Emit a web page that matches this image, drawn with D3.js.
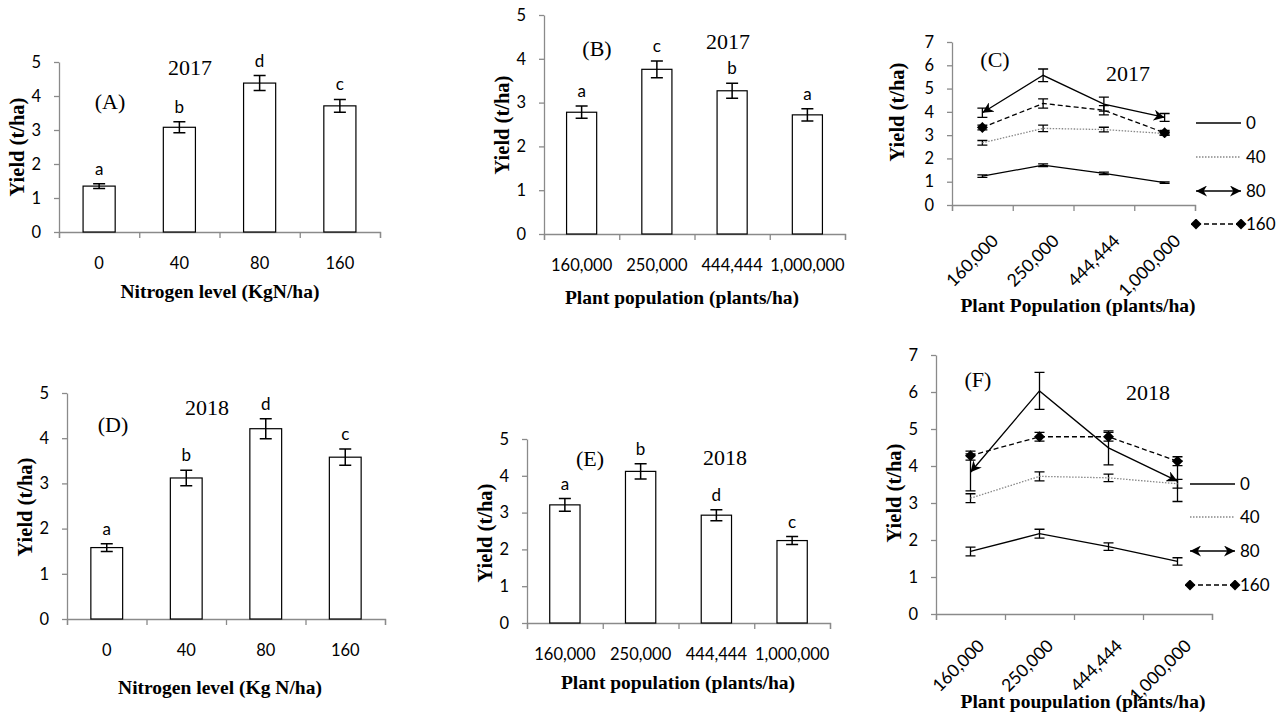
<!DOCTYPE html>
<html>
<head>
<meta charset="utf-8">
<title>Yield by nitrogen level and plant population</title>
<script src="https://d3js.org/d3.v7.min.js"></script>
<style>
  body { margin: 0; background: #fff; }
  .tick text { font-family: Lato, sans-serif; font-size: 16.5px; fill: #000; }
  .axis path, .axis line { stroke: #8a8a8a; stroke-width: 1.3; }
  .ttl { font-family: "Liberation Serif", serif; font-weight: bold; font-size: 19.5px; }
  .ttl.y { font-size: 20.5px; }
  .yr { font-family: "Liberation Serif", serif; font-size: 22px; }
  .lab { font-family: Lato, sans-serif; font-size: 17px; }
  .rot .tick text { font-size: 17.5px; }
</style>
</head>
<body>
<svg id="fig" width="1286" height="713"></svg>
<script>
// categories
var nitrogen = ["0", "40", "80", "160"];
var population = ["160,000", "250,000", "444,444", "1,000,000"];
var seriesNames = ["0", "40", "80", "160"];

// (A) 2017, nitrogen
var yieldA = [1.35, 3.08, 4.38, 3.71];
var errA = [0.07, 0.16, 0.22, 0.19];
var letA = ["a", "b", "d", "c"];
// (B) 2017, population
var yieldB = [2.78, 3.76, 3.27, 2.72];
var errB = [0.14, 0.19, 0.17, 0.14];
var letB = ["a", "c", "b", "a"];
// (D) 2018, nitrogen
var yieldD = [1.58, 3.12, 4.21, 3.58];
var errD = [0.085, 0.17, 0.22, 0.18];
var letD = ["a", "b", "d", "c"];
// (E) 2018, population
var yieldE = [3.21, 4.12, 2.93, 2.24];
var errE = [0.17, 0.21, 0.15, 0.11];
var letE = ["a", "b", "d", "c"];

// (C) 2017, population x nitrogen
var c0 = [1.24, 1.71, 1.36, 0.96],   c0e = [0.05, 0.06, 0.05, 0.03];
var c40 = [2.67, 3.29, 3.24, 3.07],  c40e = [0.1, 0.14, 0.1, 0.07];
var c80 = [3.96, 5.57, 4.33, 3.76],  c80e = [0.2, 0.27, 0.3, 0.17];
var c160 = [3.33, 4.36, 4.07, 3.1],  c160e = [0.1, 0.2, 0.2, 0.1];
// (F) 2018, population x nitrogen
var f0 = [1.69, 2.17, 1.82, 1.42],   f0e = [0.12, 0.12, 0.1, 0.1];
var f40 = [3.13, 3.72, 3.68, 3.52],  f40e = [0.12, 0.12, 0.1, 0.12];
var f80 = [3.83, 6.03, 4.49, 3.59],  f80e = [0.5, 0.5, 0.46, 0.55];
var f160 = [4.28, 4.79, 4.79, 4.13], f160e = [0.12, 0.12, 0.12, 0.12];

var svg = d3.select("#fig");
var defs = svg.append("defs");
defs.append("marker").attr("id", "arrow")
    .attr("viewBox", "0 0 10 10").attr("refX", 10).attr("refY", 5)
    .attr("markerWidth", 11).attr("markerHeight", 11)
    .attr("markerUnits", "userSpaceOnUse").attr("orient", "auto-start-reverse")
  .append("path").attr("d", "M0,0 L10,5 L0,10 L3,5 Z").attr("fill", "#000");
defs.append("marker").attr("id", "diamond")
    .attr("viewBox", "0 0 10 10").attr("refX", 5).attr("refY", 5)
    .attr("markerWidth", 11).attr("markerHeight", 11)
    .attr("markerUnits", "userSpaceOnUse")
  .append("path").attr("d", "M5,0 L10,5 L5,10 L0,5 Z").attr("fill", "#000");

var styles = {
  "0":   { stroke: "#000", dash: null, w: 1.3 },
  "40":  { stroke: "#888", dash: "1.5,1.5", w: 1.3 },
  "80":  { stroke: "#000", dash: null, w: 1.3, arrows: true },
  "160": { stroke: "#000", dash: "5,3", w: 1.3, diamonds: true }
};

function frame(o, x, y, nY) {
  svg.append("g").attr("class", "axis")
      .attr("transform", "translate(" + o.x0 + ",0)")
      .call(d3.axisLeft(y).ticks(nY).tickSize(5).tickSizeOuter(0).tickPadding(13));
  var edge = d3.scaleLinear().domain([0, 4]).range([o.x0, o.x1]);
  svg.append("g").attr("class", "axis")
      .attr("transform", "translate(0," + o.y0 + ")")
      .call(d3.axisBottom(edge).ticks(4).tickSize(6).tickFormat(""));
  svg.append("text").attr("class", "ttl").attr("text-anchor", "middle")
      .attr("x", o.tx).attr("y", o.ty).text(o.xtitle);
  svg.append("text").attr("class", "ttl y").attr("text-anchor", "middle")
      .attr("transform", "translate(" + o.yx + "," + o.yy + ") rotate(-90)")
      .text("Yield (t/ha)");
  svg.append("text").attr("class", "yr").attr("text-anchor", "middle")
      .attr("x", o.px).attr("y", o.py).text(o.panel);
  svg.append("text").attr("class", "yr").attr("text-anchor", "middle")
      .attr("x", o.yrx).attr("y", o.yry).text(o.year);
}

function barPanel(o) {
  var x = d3.scaleBand().domain(o.cats).range([o.x0, o.x1]).paddingInner(0.6).paddingOuter(0.3);
  var y = d3.scaleLinear().domain([0, 5]).range([o.y0, o.ytop]);
  frame(o, x, y, 5);
  var lab = svg.append("g").attr("class", "axis")
      .attr("transform", "translate(0," + o.y0 + ")")
      .call(d3.axisBottom(x).tickSize(0).tickPadding(25));
  lab.select(".domain").remove();

  var rows = o.cats.map(function(c, i) { return { c: c, v: o.vals[i], e: o.errs[i], l: o.lets[i] }; });
  var g = svg.append("g");
  g.selectAll("rect").data(rows).enter().append("rect")
      .attr("x", function(d) { return x(d.c); })
      .attr("width", x.bandwidth())
      .attr("y", function(d) { return y(d.v); })
      .attr("height", function(d) { return o.y0 - y(d.v); })
      .attr("fill", "#fff").attr("stroke", "#000").attr("stroke-width", 1.2);
  var cx = function(d) { return x(d.c) + x.bandwidth() / 2; };
  g.selectAll("path.eb").data(rows).enter().append("path")
      .attr("d", function(d) {
        var X = cx(d), t = y(d.v + d.e), b = y(d.v - d.e);
        return "M" + (X - 6) + "," + t + "H" + (X + 6) + "M" + X + "," + t + "V" + b +
               "M" + (X - 6) + "," + b + "H" + (X + 6);
      })
      .attr("stroke", "#000").attr("stroke-width", 1.5).attr("fill", "none");
  g.selectAll("text").data(rows).enter().append("text")
      .attr("class", "lab").attr("text-anchor", "middle")
      .attr("x", cx)
      .attr("y", function(d) { return y(d.v + d.e) - 9; })
      .text(function(d) { return d.l; });
}

function linePanel(o) {
  var x = d3.scaleBand().domain(population).range([o.x0, o.x1]);
  var y = d3.scaleLinear().domain([0, 7]).range([o.y0, o.ytop]);
  frame(o, x, y, 7);
  var lab = svg.append("g").attr("class", "axis rot")
      .attr("transform", "translate(0," + o.y0 + ")")
      .call(d3.axisBottom(x).tickSize(0).tickPadding(0));
  lab.select(".domain").remove();
  lab.selectAll(".tick text")
      .attr("text-anchor", "end").attr("dy", null)
      .attr("transform", "translate(" + o.lx + "," + o.ly + ") rotate(-45)");

  var cx = function(i) { return x(population[i]) + x.bandwidth() / 2; };
  var line = d3.line().x(function(d, i) { return cx(i); }).y(function(d) { return y(d); });
  var g = svg.append("g");
  o.series.forEach(function(s) {
    s.e.forEach(function(e, i) {
      var X = cx(i), t = y(s.v[i] + e), b = y(s.v[i] - e);
      g.append("path")
          .attr("d", "M" + (X - 5) + "," + t + "H" + (X + 5) + "M" + X + "," + t + "V" + b +
                     "M" + (X - 5) + "," + b + "H" + (X + 5))
          .attr("stroke", "#000").attr("stroke-width", 1.3).attr("fill", "none");
    });
  });
  o.series.forEach(function(s, k) {
    var st = styles[seriesNames[k]];
    var p = g.append("path").attr("d", line(s.v))
        .attr("fill", "none").attr("stroke", st.stroke).attr("stroke-width", st.w)
        .attr("stroke-dasharray", st.dash);
    if (st.arrows) p.attr("marker-start", "url(#arrow)").attr("marker-end", "url(#arrow)");
    if (st.diamonds) {
      p.attr("marker-start", "url(#diamond)").attr("marker-end", "url(#diamond)");
      if (o.midDiamonds) p.attr("marker-mid", "url(#diamond)");
    }
  });

  // legend
  var lg = svg.append("g");
  seriesNames.forEach(function(n, k) {
    var st = styles[n], ly = o.legY[k];
    var p = lg.append("path").attr("d", "M" + o.legX + "," + ly + "H" + (o.legX + 45))
        .attr("fill", "none").attr("stroke", st.stroke).attr("stroke-width", st.w)
        .attr("stroke-dasharray", st.dash);
    if (st.arrows) p.attr("marker-start", "url(#arrow)").attr("marker-end", "url(#arrow)");
    if (st.diamonds) p.attr("marker-start", "url(#diamond)").attr("marker-end", "url(#diamond)");
    lg.append("text").attr("class", "lab").attr("x", o.legX + 50).attr("y", ly + 6).text(n);
  });
}

barPanel({ cats: nitrogen, vals: yieldA, errs: errA, lets: letA,
  x0: 59, x1: 380, y0: 232, ytop: 62,
  xtitle: "Nitrogen level (KgN/ha)", tx: 220, ty: 298, yx: 24, yy: 147,
  panel: "(A)", px: 110, py: 109, year: "2017", yrx: 190, yry: 75 });

barPanel({ cats: population, vals: yieldB, errs: errB, lets: letB,
  x0: 544, x1: 845, y0: 234, ytop: 15,
  xtitle: "Plant population (plants/ha)", tx: 682, ty: 304, yx: 509, yy: 125,
  panel: "(B)", px: 597, py: 56, year: "2017", yrx: 728, yry: 49 });

barPanel({ cats: nitrogen, vals: yieldD, errs: errD, lets: letD,
  x0: 67, x1: 385, y0: 619, ytop: 393,
  xtitle: "Nitrogen level (Kg N/ha)", tx: 220, ty: 694, yx: 32, yy: 507,
  panel: "(D)", px: 113, py: 432, year: "2018", yrx: 207, yry: 415 });

barPanel({ cats: population, vals: yieldE, errs: errE, lets: letE,
  x0: 527, x1: 830, y0: 623, ytop: 439,
  xtitle: "Plant population (plants/ha)", tx: 678, ty: 689, yx: 492, yy: 533,
  panel: "(E)", px: 590, py: 466, year: "2018", yrx: 725, yry: 465 });

linePanel({ x0: 952, x1: 1195, y0: 205, ytop: 42, lx: 17, ly: 37,
  series: [{ v: c0, e: c0e }, { v: c40, e: c40e }, { v: c80, e: c80e }, { v: c160, e: c160e }],
  midDiamonds: false, legX: 1196, legY: [123, 157, 191, 224],
  xtitle: "Plant Population (plants/ha)", tx: 1078, ty: 312, yx: 904, yy: 112,
  panel: "(C)", px: 995, py: 67, year: "2017", yrx: 1128, yry: 81 });

linePanel({ x0: 936, x1: 1212, y0: 614, ytop: 355, lx: 15, ly: 33,
  series: [{ v: f0, e: f0e }, { v: f40, e: f40e }, { v: f80, e: f80e }, { v: f160, e: f160e }],
  midDiamonds: true, legX: 1190, legY: [484, 517, 551, 585],
  xtitle: "Plant poupulation (plants/ha)", tx: 1083, ty: 708, yx: 901, yy: 493,
  panel: "(F)", px: 978, py: 387, year: "2018", yrx: 1148, yry: 400 });
</script>
</body>
</html>
